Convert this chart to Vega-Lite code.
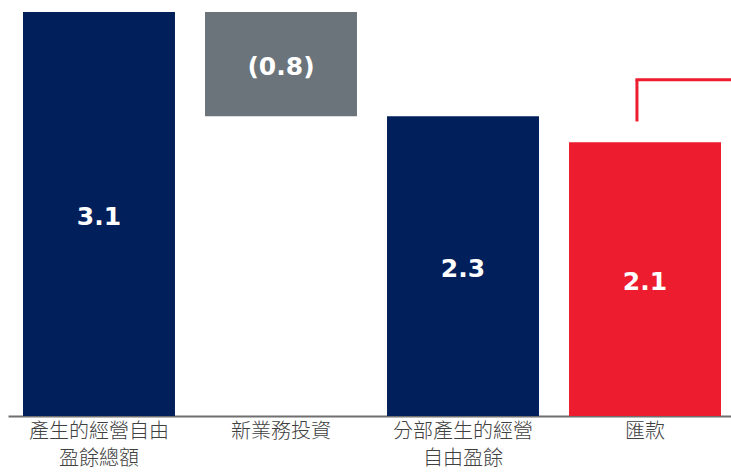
{
  "$schema": "https://vega.github.io/schema/vega-lite/v6.json",
  "autosize": "none",
  "width": 723,
  "height": 404,
  "padding": {"left": 8, "top": 12, "right": 0, "bottom": 56},
  "background": "white",
  "config": {"view": {"stroke": null}},
  "datasets": {
    "bars": [
      {"cat": "產生的經營自由\n盈餘總額", "start": 0, "end": 3.1, "label": "3.1", "kind": "total"},
      {"cat": "新業務投資", "start": 3.1, "end": 2.3, "label": "(0.8)", "kind": "decrease"},
      {"cat": "分部產生的經營\n自由盈餘", "start": 0, "end": 2.3, "label": "2.3", "kind": "total"},
      {"cat": "匯款", "start": 0, "end": 2.1, "label": "2.1", "kind": "remittance"}
    ],
    "bracket": [
      {"cat": "匯款", "top": 2.58, "bottom": 2.26}
    ]
  },
  "encoding": {
    "x": {
      "field": "cat",
      "type": "nominal",
      "sort": null,
      "scale": {
        "domain": ["產生的經營自由\n盈餘總額", "新業務投資", "分部產生的經營\n自由盈餘", "匯款"],
        "paddingInner": 0.165,
        "paddingOuter": 0.0687,
        "align": 0.6
      },
      "axis": {
        "title": null,
        "labelAngle": 0,
        "ticks": false,
        "domainColor": "#6f6f6f",
        "domainWidth": 2,
        "labelFont": "Noto Sans CJK TC",
        "labelFontSize": 20,
        "labelFontWeight": 300,
        "labelColor": "#404040",
        "labelLineHeight": 27,
        "labelPadding": 5,
        "labelExpr": "split(datum.label, '\\n')"
      }
    }
  },
  "layer": [
    {
      "data": {"name": "bars"},
      "mark": {"type": "bar"},
      "encoding": {
        "y": {"field": "start", "type": "quantitative", "scale": {"domain": [0, 3.1], "nice": false, "zero": true}, "axis": null},
        "y2": {"field": "end"},
        "color": {
          "field": "kind",
          "type": "nominal",
          "scale": {"domain": ["total", "decrease", "remittance"], "range": ["#001f5b", "#6b747a", "#ed1c2e"]},
          "legend": null
        }
      }
    },
    {
      "data": {"name": "bars"},
      "transform": [{"calculate": "(datum.start + datum.end) / 2", "as": "mid"}],
      "mark": {"type": "text", "font": "DejaVu Sans", "fontWeight": "bold", "fontSize": 25, "color": "white", "baseline": "middle", "dy": 3},
      "encoding": {
        "y": {"field": "mid", "type": "quantitative"},
        "text": {"field": "label"}
      }
    },
    {
      "data": {"name": "bracket"},
      "mark": {"type": "rule", "color": "#ed1c2e", "strokeWidth": 3},
      "encoding": {
        "x": {"field": "cat", "type": "nominal", "bandPosition": 0.447},
        "y": {"field": "top", "type": "quantitative"},
        "y2": {"field": "bottom"}
      }
    },
    {
      "data": {"name": "bracket"},
      "mark": {"type": "rule", "color": "#ed1c2e", "strokeWidth": 3},
      "encoding": {
        "x": {"field": "cat", "type": "nominal", "bandPosition": 0.437},
        "x2": {"field": "cat", "bandPosition": 1.1},
        "y": {"field": "top", "type": "quantitative"}
      }
    }
  ]
}
